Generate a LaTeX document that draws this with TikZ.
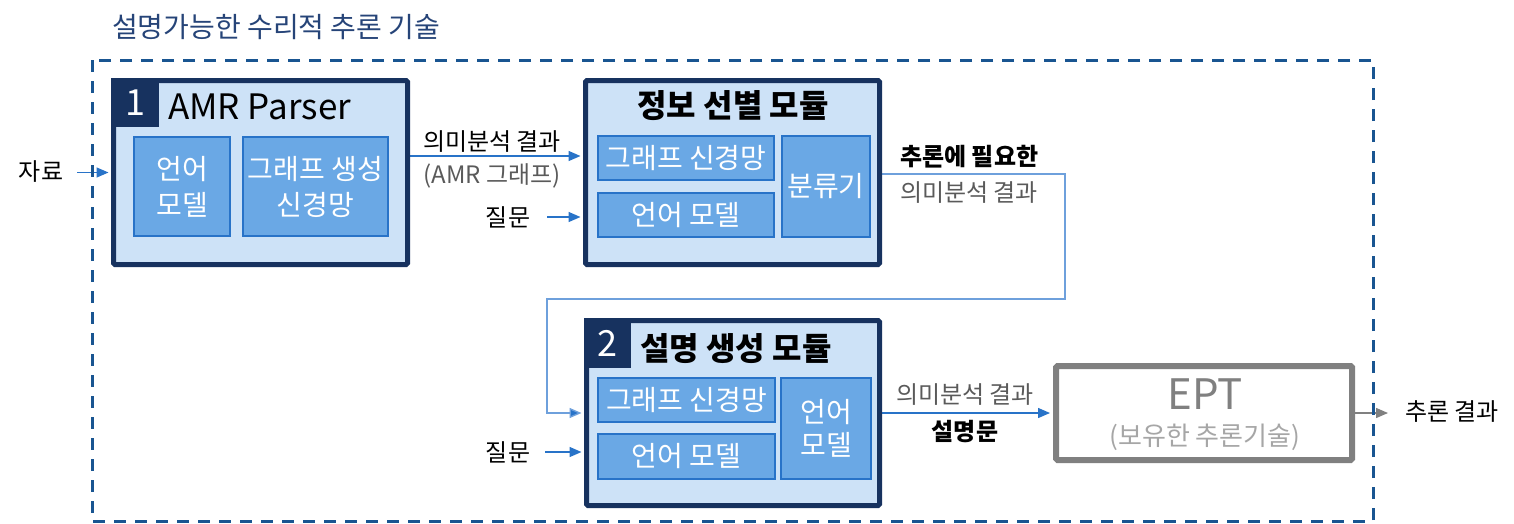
\documentclass[tikz,border=0pt]{standalone}
\usepackage{fontspec}
\setmainfont{Noto Sans CJK KR}
\usetikzlibrary{arrows.meta,backgrounds}
\definecolor{navy}{RGB}{23,50,95}
\definecolor{lightfill}{RGB}{205,226,247}
\definecolor{midfill}{RGB}{106,168,229}
\definecolor{midline}{RGB}{40,115,200}
\definecolor{arrblue}{RGB}{40,115,200}
\definecolor{fbblue}{RGB}{110,160,220}
\definecolor{dashcol}{RGB}{25,85,145}
\definecolor{titlecol}{RGB}{38,68,120}
\definecolor{eptgray}{RGB}{128,128,128}
\definecolor{subgray}{RGB}{166,166,166}
\definecolor{lblgray}{RGB}{90,90,90}
\tikzset{
  modbox/.style={draw=navy, line width=5pt, fill=lightfill, rounded corners=1.5pt, inner sep=0pt},
  tabbox/.style={fill=navy, text=white, inner sep=0pt, anchor=north west, font=\fontsize{36}{38}\selectfont},
  modtitle/.style={inner sep=0pt, font=\fontsize{32}{34}\selectfont\bfseries},
  subbox/.style={draw=midline, line width=2pt, fill=midfill, text=white, inner sep=0pt, align=center, font=\fontsize{28}{31}\selectfont},
  subboxA/.style={subbox, font=\fontsize{28}{36}\selectfont},
  subboxB/.style={subbox, font=\fontsize{28}{33}\selectfont},
  lbl/.style={inner sep=0pt, font=\fontsize{24}{27}\selectfont},
  lblgr/.style={lbl, text=lblgray},
  arr/.style={draw=arrblue, line width=1.4pt, -{Triangle[length=12pt,width=10pt]}},
  fbline/.style={draw=fbblue, line width=1.4pt, -{Triangle[length=12pt,width=10pt,fill=arrblue]}},
  grayarr/.style={draw=eptgray, line width=1.4pt, -{Triangle[length=12pt,width=10pt]}},
  dashbox/.style={draw=dashcol, line width=3pt, dash pattern=on 12pt off 9pt},
  eptbox/.style={draw=eptgray, line width=6pt, fill=white, rounded corners=1.5pt, inner sep=0pt}
}
\begin{document}
\begin{tikzpicture}[x=1pt,y=-1pt]
\useasboundingbox (0,0) rectangle (1514,523);

% title and outer dashed frame
\node[inner sep=0pt, anchor=west, text=titlecol, font=\fontsize{28}{30}\selectfont] (title) at (112,27) {설명가능한 수리적 추론 기술};
\draw[dashbox] (92,60) rectangle (1373,521);

% module 1
\node[modbox, minimum width=294pt, minimum height=184pt] (m1) at (260.5,172.5) {};
\node[tabbox, minimum width=48pt, minimum height=49pt] (t1) at (111,78) {1};
\node[inner sep=0pt, anchor=west, font=\fontsize{35}{38}\selectfont] (m1t) at (168,107) {AMR Parser};
\node[subboxA, minimum width=96pt, minimum height=99pt] (m1a) at (182,186.5) {언어\\모델};
\node[subboxA, minimum width=145pt, minimum height=99pt] (m1b) at (315.5,186.5) {그래프 생성\\신경망};

% module: information selection
\node[modbox, minimum width=294pt, minimum height=184pt] (m2) at (732.5,172.5) {};
\node[modtitle] (m2t) at (733,106) {정보 선별 모듈};
\node[subbox, minimum width=176pt, minimum height=44pt] (m2a) at (686,158) {그래프 신경망};
\node[subbox, minimum width=176pt, minimum height=44pt] (m2b) at (686,215) {언어 모델};
\node[subbox, minimum width=88pt, minimum height=101pt] (m2c) at (826,186.5) {분류기};

% module 2
\node[modbox, minimum width=293pt, minimum height=185pt] (m3) at (733,413) {};
\node[tabbox, minimum width=47pt, minimum height=50pt] (t2) at (584,318) {2};
\node[modtitle, anchor=west] (m3t) at (640,349) {설명 생성 모듈};
\node[subbox, minimum width=177pt, minimum height=44pt] (m3a) at (686.5,400) {그래프 신경망};
\node[subbox, minimum width=177pt, minimum height=45pt] (m3b) at (686.5,456.5) {언어 모델};
\node[subboxB, minimum width=90pt, minimum height=101pt] (m3c) at (826,428.5) {언어\\모델};

% EPT
\node[eptbox, minimum width=296pt, minimum height=94pt] (ept) at (1204,413) {};
\node[inner sep=0pt, text=eptgray, font=\fontsize{42}{44}\selectfont] (eptt) at (1205,394) {EPT};
\node[inner sep=0pt, text=subgray, font=\fontsize{26}{28}\selectfont] (epts) at (1205,437) {(보유한 추론기술)};

% outside labels
\node[lbl] (src) at (41,172) {자료};
\node[lbl] (q1) at (508,217) {질문};
\node[lbl] (q2) at (508,452) {질문};
\node[lbl] (out) at (1452,412) {추론 결과};
\node[lbl] (l1a) at (492,142) {의미분석 결과};
\node[lblgr] (l1b) at (492,176) {(AMR 그래프)};
\node[lbl, anchor=west, font=\fontsize{24}{27}\selectfont\bfseries] (l2a) at (900,157) {추론에 필요한};
\node[lblgr, anchor=west] (l2b) at (900,193) {의미분석 결과};
\node[lblgr] (l3a) at (965,395) {의미분석 결과};
\node[lbl, font=\fontsize{24}{27}\selectfont\bfseries] (l3b) at (965,432) {설명문};

% free ends and bends
\coordinate (s0) at (77,172.5);
\coordinate (q1s) at (547,217);
\coordinate (q2s) at (545,452);
\coordinate (fb1) at (1065,174);
\coordinate (fb2) at (1065,299);
\coordinate (fb3) at (547,299);
\coordinate (fb4) at (547,413);
\coordinate (oute) at (1388,413);

\begin{pgfonlayer}{background}
\draw[arr, shorten >=2.5pt] (s0) -- (m1.west);
\draw[arr, shorten >=2.5pt] (m1.east |- 0,156) -- (m2.west |- 0,156);
\draw[arr, shorten >=2.5pt] (q1s) -- (m2.west |- q1s);
\draw[fbline, shorten >=2.5pt] (m2.east |- fb1) -- (fb1) -- (fb2) -- (fb3) -- (fb4) -- (m3.west);
\draw[arr, shorten >=2.5pt] (q2s) -- (m3.west |- q2s);
\draw[arr, shorten >=3pt] (m3.east) -- (ept.west);
\draw[grayarr] (ept.east) -- (oute);
\end{pgfonlayer}
\end{tikzpicture}
\end{document}
